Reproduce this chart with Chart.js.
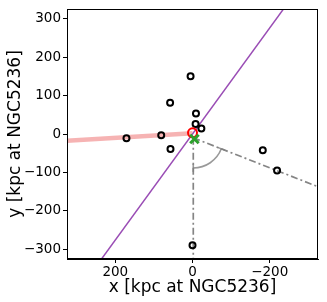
<!DOCTYPE html>
<html>
<head>
<meta charset="utf-8">
<script src="https://cdn.jsdelivr.net/npm/chart.js@4/dist/chart.umd.min.js"></script>
<style>
  html, body { margin: 0; padding: 0; background: #fff; }
  canvas { display: block; }
</style>
</head>
<body>
<canvas id="map" width="327" height="302"></canvas>
<script>
// satellite positions (kpc at NGC5236)
const satX = [5, 58, -9, -8, -23, 81, 171, 57, -182, -219, 0];
const satY = [150, 81, 53, 26, 14, -3, -11, -39, -42, -95, -289];

// host centre and offset marker
const hostPos = [{ x: 0, y: 3 }];
const crossPos = [{ x: -5, y: -13 }];

// lines
const purpleLine = [{ x: 240, y: -331 }, { x: -240, y: 331 }];
const pinkLine = [{ x: 0, y: 2 }, { x: 330, y: -18 }];
const vertLine = [{ x: -2, y: -10 }, { x: -2, y: -330 }];
const slantLine = [{ x: -2, y: -10 }, { x: -330, y: -139 }];

// angle arc between the two dash-dot lines
const arcCentre = { x: -2, y: -10 };
const arcRadius = 78;

const xTickValues = [200, 0, -200];
const yTickValues = [300, 200, 100, 0, -100, -200, -300];
const axisMin = -325, axisMax = 325;

const font = 'DejaVu Sans';
const minus = v => String(v).replace('-', '\u2212');

// no extra room for tick labels at the ends of the axes
function noPad(s) {
  s.paddingLeft = 0; s.paddingRight = 0; s.paddingTop = 0; s.paddingBottom = 0;
}

// draws the full box and the angle arc
const extras = {
  id: 'extras',
  afterDatasetsDraw(chart) {
    const { ctx, scales: { x, y } } = chart;
    const cx = x.getPixelForValue(arcCentre.x);
    const cy = y.getPixelForValue(arcCentre.y);
    const r = Math.abs(x.getPixelForValue(arcCentre.x + arcRadius) - cx);
    const p1 = vertLine[1], p2 = slantLine[1];
    const a1 = Math.atan2(y.getPixelForValue(p1.y) - cy, x.getPixelForValue(p1.x) - cx);
    const a2 = Math.atan2(y.getPixelForValue(p2.y) - cy, x.getPixelForValue(p2.x) - cx);
    ctx.save();
    ctx.strokeStyle = 'rgba(128,128,128,0.8)';
    ctx.lineWidth = 1.6;
    ctx.beginPath();
    ctx.arc(cx, cy, r, Math.min(a1, a2), Math.max(a1, a2));
    ctx.stroke();
    // small bars at the arc ends
    [a1, a2].forEach(t => {
      const ex = cx + r * Math.cos(t), ey = cy + r * Math.sin(t);
      ctx.beginPath();
      ctx.moveTo(ex - 4 * Math.cos(t), ey - 4 * Math.sin(t));
      ctx.lineTo(ex + 4 * Math.cos(t), ey + 4 * Math.sin(t));
      ctx.stroke();
    });
    ctx.restore();
  },
  afterDraw(chart) {
    const { ctx, chartArea: a } = chart;
    ctx.save();
    ctx.strokeStyle = '#000';
    ctx.lineWidth = 1;
    ctx.strokeRect(a.left + 0.5, a.top + 0.5, a.right - a.left - 1, a.bottom - a.top - 1);
    ctx.restore();
  }
};

const ctx = document.getElementById('map').getContext('2d');
const chart = new Chart(ctx, {
  type: 'scatter',
  data: {
    datasets: [
      {
        data: crossPos, pointStyle: 'crossRot', pointRadius: 6, borderWidth: 3,
        borderColor: '#2ca02c', order: 0
      },
      {
        data: hostPos, pointStyle: 'circle', pointRadius: 4.5, borderWidth: 2,
        borderColor: 'red', backgroundColor: 'rgba(0,0,0,0)', order: 1
      },
      {
        data: satX.map((v, i) => ({ x: v, y: satY[i] })), pointStyle: 'circle',
        pointRadius: 3, borderWidth: 2, borderColor: '#000', backgroundColor: 'rgba(0,0,0,0)', order: 2
      },
      {
        data: purpleLine, showLine: true, pointRadius: 0, borderWidth: 1.5,
        borderColor: '#9a4db5', order: 3
      },
      {
        data: vertLine, showLine: true, pointRadius: 0, borderWidth: 1.7,
        borderColor: 'rgba(120,120,120,0.9)', borderDash: [7, 3, 2, 3], order: 4
      },
      {
        data: slantLine, showLine: true, pointRadius: 0, borderWidth: 1.7,
        borderColor: 'rgba(120,120,120,0.9)', borderDash: [7, 3, 2, 3], order: 4
      },
      {
        data: pinkLine, showLine: true, pointRadius: 0, borderWidth: 4.5,
        borderColor: 'rgba(240,128,128,0.6)', order: 5
      }
    ]
  },
  options: {
    responsive: false,
    animation: false,
    devicePixelRatio: 1,
    layout: { padding: { top: 3, right: 5, left: 0, bottom: 0 } },
    plugins: { legend: { display: false }, tooltip: { enabled: false } },
    scales: {
      x: {
        type: 'linear', min: axisMin, max: axisMax, reverse: true,
        afterBuildTicks: s => { s.ticks = xTickValues.map(v => ({ value: v })); },
        afterFit: s => { s.height = 43; noPad(s); },
        grid: { drawOnChartArea: false, tickLength: 4, tickColor: '#000' },
        border: { color: '#000', width: 1 },
        ticks: { color: '#000', padding: 1, maxRotation: 0, font: { family: font, size: 13.5 }, callback: v => minus(v) },
        title: { display: true, text: 'x [kpc at NGC5236]', color: '#000', padding: { top: 0, bottom: 4 }, font: { family: font, size: 17 } }
      },
      y: {
        type: 'linear', min: axisMin, max: axisMax,
        afterBuildTicks: s => { s.ticks = yTickValues.map(v => ({ value: v })); },
        afterFit: s => { s.width = 67; noPad(s); },
        grid: { drawOnChartArea: false, tickLength: 4, tickColor: '#000' },
        border: { color: '#000', width: 1 },
        ticks: { color: '#000', padding: 2, font: { family: font, size: 13.5 }, callback: v => minus(v) },
        title: { display: true, text: 'y [kpc at NGC5236]', color: '#000', padding: { top: 5, bottom: 0 }, font: { family: font, size: 17 } }
      }
    }
  },
  plugins: [extras]
});
</script>
</body>
</html>
